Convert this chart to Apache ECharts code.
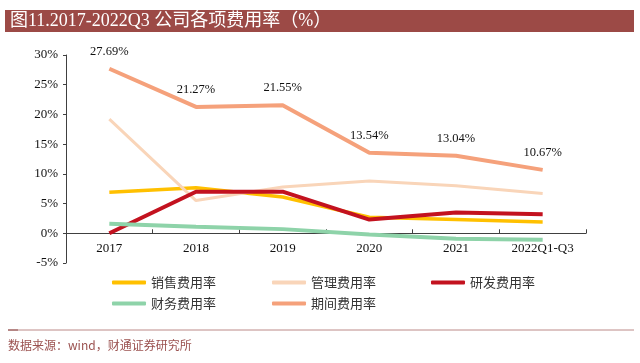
<!DOCTYPE html>
<html>
<head>
<meta charset="utf-8">
<script src="https://cdn.jsdelivr.net/npm/echarts@6/dist/echarts.min.js"></script>
<style>
html,body{margin:0;padding:0;background:#fff;}
#c{width:640px;height:363px;}
</style>
</head>
<body>
<div id="c"></div>
<script>
var categories = ['2017', '2018', '2019', '2020', '2021', '2022Q1-Q3'];
var salesRate = [6.9, 7.65, 6.1, 2.7, 2.3, 1.9];
var adminRate = [19.2, 5.5, 7.8, 8.8, 8.0, 6.7];
var rdRate = [0.0, 7.0, 7.0, 2.3, 3.5, 3.2];
var finRate = [1.6, 1.1, 0.7, -0.2, -0.9, -1.1];
var periodRate = [27.69, 21.27, 21.55, 13.54, 13.04, 10.67];
var yTicks = [-5, 0, 5, 10, 15, 20, 25, 30];
var seriesNames = ['销售费用率', '管理费用率', '研发费用率', '财务费用率', '期间费用率'];
var titleText = '图11.2017-2022Q3 公司各项费用率（%）';
var sourceText = '数据来源：wind，财通证券研究所';

var colors = ['#FFC000', '#F9D5B9', '#C3121F', '#8ED3A9', '#F5A17B'];
var serif = '"Liberation Serif", "Noto Sans CJK SC", serif';
var cjk = '"Noto Sans CJK SC", sans-serif';

var gridTop = 55, gridBottom = 100, chartH = 363;
var yMin = yTicks[0], yMax = yTicks[yTicks.length - 1];
var plotH = chartH - gridTop - gridBottom;
// shift x axis from the grid bottom up to the zero value line
var zeroOffset = -plotH * (0 - yMin) / (yMax - yMin);

var chart = echarts.init(document.getElementById('c'), null, {renderer: 'canvas'});

function legendAt(name, left, top) {
  return {
    data: [name], left: left, top: top, itemWidth: 34, itemHeight: 4,
    icon: 'roundRect', padding: 0,
    textStyle: {fontFamily: cjk, fontSize: 13, color: '#333'}
  };
}

var dataSets = [salesRate, adminRate, rdRate, finRate, periodRate];
var widths = [3.5, 3, 4, 4, 4];
var series = dataSets.map(function (d, i) {
  var s = {
    name: seriesNames[i], type: 'line', data: d,
    symbol: 'circle', symbolSize: 0.1, showSymbol: true,
    lineStyle: {width: widths[i], color: colors[i]},
    itemStyle: {color: colors[i]},
    emphasis: {disabled: true}
  };
  if (i === 4) {
    s.label = {show: true, position: 'top', distance: 11,
      formatter: function (p) { return p.value.toFixed(2) + '%'; },
      fontFamily: serif, fontSize: 12.5, color: '#111'};
  }
  return s;
});

chart.setOption({
  animation: false,
  color: colors,
  grid: {left: 66, right: 54, top: gridTop, bottom: gridBottom, containLabel: false},
  legend: [
    legendAt(seriesNames[0], 112, 276),
    legendAt(seriesNames[1], 272, 276),
    legendAt(seriesNames[2], 431, 276),
    legendAt(seriesNames[3], 112, 297),
    legendAt(seriesNames[4], 272, 297)
  ],
  xAxis: {
    type: 'category', data: categories, boundaryGap: true,
    offset: zeroOffset,
    axisLine: {onZero: false, lineStyle: {color: '#404040', width: 1}},
    axisTick: {show: true, inside: true, length: 4, alignWithLabel: false, lineStyle: {color: '#404040'}},
    axisLabel: {fontFamily: serif, fontSize: 13, color: '#111', margin: 9}
  },
  yAxis: {
    type: 'value', min: yMin, max: yMax, interval: 5,
    axisLine: {show: true, lineStyle: {color: '#404040', width: 1}},
    axisTick: {show: true, length: 3, lineStyle: {color: '#404040'}},
    splitLine: {show: false},
    axisLabel: {fontFamily: serif, fontSize: 13, color: '#111', margin: 8,
      formatter: function (v) { return v + '%'; }}
  },
  graphic: [
    {type: 'rect', shape: {x: 5, y: 10, width: 629, height: 22}, style: {fill: '#9C4A46'}, silent: true},
    {type: 'text', x: 10, y: 21, style: {text: titleText, fill: '#fff', font: '18px ' + serif, verticalAlign: 'middle'}, silent: true},
    {type: 'line', shape: {x1: 8, y1: 330, x2: 634, y2: 330}, style: {stroke: '#BC8A88', lineWidth: 1}, silent: true},
    {type: 'line', shape: {x1: 8, y1: 330, x2: 18, y2: 330}, style: {stroke: '#8E4A48', lineWidth: 1}, silent: true},
    {type: 'text', x: 8, y: 345, style: {text: sourceText, fill: '#9B5250', font: '12px ' + cjk, verticalAlign: 'middle'}, silent: true}
  ],
  series: series
});
</script>
</body>
</html>
